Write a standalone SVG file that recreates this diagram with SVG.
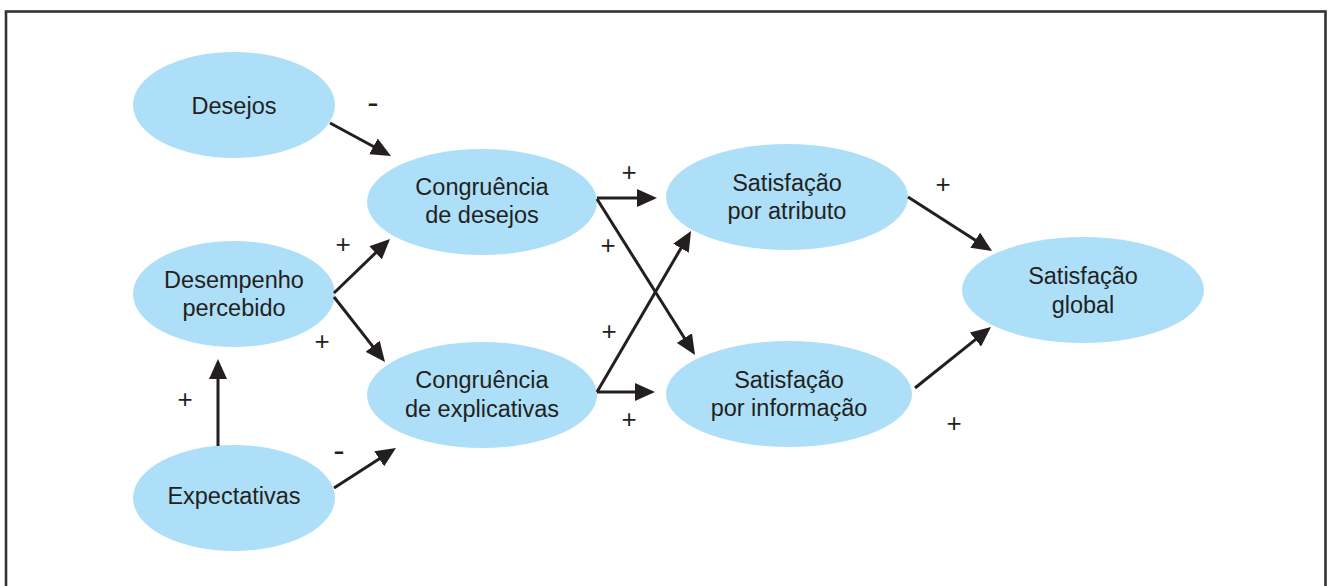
<svg xmlns="http://www.w3.org/2000/svg" width="1332" height="586" viewBox="0 0 1332 586">
<style>
.node ellipse{fill:#addff8}
.node text{font-family:"Liberation Sans",Arial,sans-serif;font-size:23.5px;fill:#231f20;text-anchor:middle}
.conn line{stroke:#231f20;stroke-width:3;fill:none}
.sign{font-family:"Liberation Sans",Arial,sans-serif;font-size:26px;fill:#231f20;text-anchor:middle}
.minus{font-size:34px}
</style>
<defs>
<marker id="ah" markerUnits="userSpaceOnUse" viewBox="0 0 20 18" markerWidth="20" markerHeight="18" refX="10" refY="9" orient="auto">
<path d="M0,0 L20,9 L0,18 z" fill="#231f20"/>
</marker>
</defs>
<rect x="0" y="0" width="1332" height="586" fill="#ffffff"/>
<rect x="6" y="11.5" width="1319.5" height="620" fill="none" stroke="#333333" stroke-width="2.6"/>
<g id="desejos" class="node"><ellipse cx="234" cy="105" rx="101" ry="53"/><text x="234" y="114">Desejos</text></g>
<g id="desempenho" class="node"><ellipse cx="234" cy="294" rx="101" ry="53"/><text x="234" y="288">Desempenho</text><text x="234" y="316">percebido</text></g>
<g id="expectativas" class="node"><ellipse cx="234" cy="498" rx="101" ry="53"/><text x="234" y="504">Expectativas</text></g>
<g id="cong-desejos" class="node"><ellipse cx="482" cy="202" rx="115" ry="53"/><text x="482" y="195">Congruência</text><text x="482" y="223">de desejos</text></g>
<g id="cong-explicativas" class="node"><ellipse cx="482" cy="395" rx="115" ry="53"/><text x="482" y="388">Congruência</text><text x="482" y="417">de explicativas</text></g>
<g id="sat-atributo" class="node"><ellipse cx="787" cy="197" rx="121" ry="53"/><text x="787" y="191">Satisfação</text><text x="787" y="219">por atributo</text></g>
<g id="sat-informacao" class="node"><ellipse cx="789" cy="394" rx="123" ry="53"/><text x="789" y="388">Satisfação</text><text x="789" y="416">por informação</text></g>
<g id="sat-global" class="node"><ellipse cx="1083" cy="290" rx="121" ry="53"/><text x="1083" y="284">Satisfação</text><text x="1083" y="313">global</text></g>
<g id="connectors" class="conn">
<line x1="330" y1="123" x2="382.2" y2="151.2" marker-end="url(#ah)"/>
<line x1="334" y1="293" x2="382.8" y2="245.9" marker-end="url(#ah)"/>
<line x1="334" y1="297" x2="378.8" y2="354.1" marker-end="url(#ah)"/>
<line x1="218" y1="446" x2="218" y2="369" marker-end="url(#ah)"/>
<line x1="334" y1="488" x2="387.6" y2="453.4" marker-end="url(#ah)"/>
<line x1="597" y1="198" x2="647" y2="198" marker-end="url(#ah)"/>
<line x1="597" y1="199" x2="689.7" y2="346.5" marker-end="url(#ah)"/>
<line x1="597" y1="392" x2="686" y2="239.6" marker-end="url(#ah)"/>
<line x1="597" y1="392" x2="645" y2="392" marker-end="url(#ah)"/>
<line x1="908" y1="197" x2="983.6" y2="245.6" marker-end="url(#ah)"/>
<line x1="915" y1="388" x2="983.2" y2="333.3" marker-end="url(#ah)"/>
</g>
<g id="signs">
<text class="sign minus" x="373" y="113.5">-</text>
<text class="sign" x="343" y="252.5">+</text>
<text class="sign" x="322" y="349.5">+</text>
<text class="sign" x="185" y="407.5">+</text>
<text class="sign minus" x="339" y="462">-</text>
<text class="sign" x="629" y="180.5">+</text>
<text class="sign" x="608" y="253.5">+</text>
<text class="sign" x="609" y="339.5">+</text>
<text class="sign" x="629" y="427.5">+</text>
<text class="sign" x="943" y="192.5">+</text>
<text class="sign" x="954" y="431.5">+</text>
</g>
</svg>
